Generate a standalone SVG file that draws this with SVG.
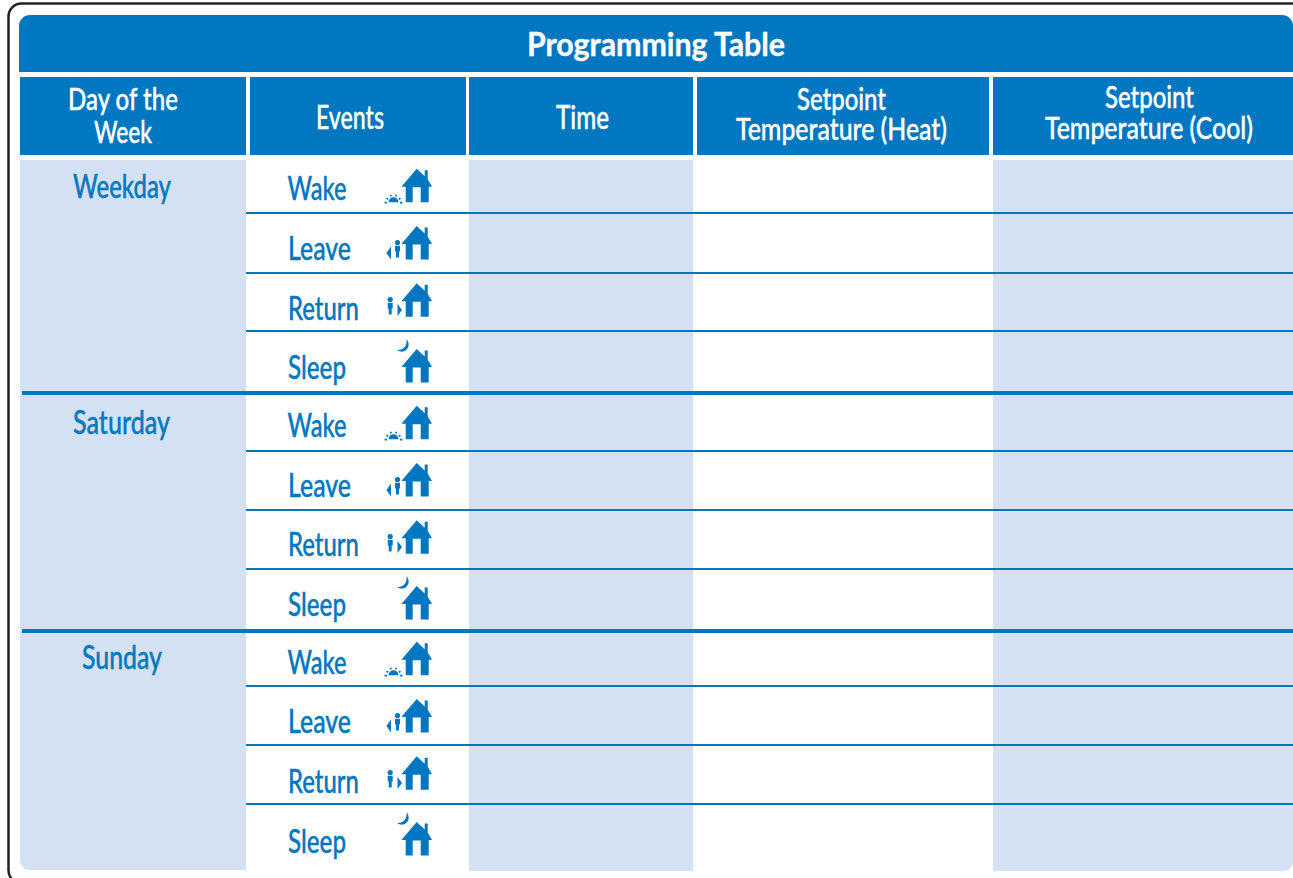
<svg xmlns="http://www.w3.org/2000/svg" width="1293" height="878" viewBox="0 0 1293 878">
<style>
text{font-family:Lato,"Liberation Sans",sans-serif;font-size:33px;font-weight:500;stroke-width:.4}
.h{fill:#fff;stroke:#fff}.b{fill:#0277c1;stroke:#0277c1}.l{fill:#d4e1f2}.c{fill:#0277c1}.f{fill:#0277c1}
.s{font-size:31px}
.t{stroke:#0277c1;stroke-width:2;fill:none}.k{stroke:#0277c1;stroke-width:4;fill:none}
</style>
<defs>
<g id="house"><path class="c" d="M0 0L8 7.500V1.500H11V10.500L15.300 18H12V33.500H4V18.500H-4V33.500H-11V18H-15.300Z"/></g>
<g id="sun"><path class="c" d="M-5 .5A5 5 0 0 1 5 .5Z"/><path d="M-9 1H-6.500M6.500 1H9M-7 -3.500L-5.300 -2.500M7 -3.500L5.300 -2.500M-2.900 -7L-2.300 -5.300M2.900 -7L2.300 -5.300" stroke="#0277c1" stroke-width="1.700" fill="none"/></g>
<g id="person"><circle class="c" cx="0" cy="0" r="2.600"/><path class="c" d="M-2.500 3.200H2.500V9H1.500V15H-1.500V9H-2.500Z"/></g>
<g id="leave"><use href="#person" x="397.500" y="242.500"/><path class="c" d="M391 246.500V259.500L386.400 253Z"/></g>
<g id="ret"><use href="#person" x="390.200" y="299.500"/><path class="c" d="M397.500 304V316L402 310Z"/></g>
<path id="moon" class="c" d="M406.500 339C412.500 346 405 355.500 397 350C403 350.500 407.500 346 406.500 339Z"/>
<g id="icons">
<use href="#house" x="416.700" y="168.700"/><use href="#sun" x="393.500" y="201.700"/>
<use href="#house" x="416.700" y="226"/><use href="#leave"/>
<use href="#house" x="416.700" y="283.300"/><use href="#ret"/>
<use href="#house" x="416.700" y="349"/><use href="#moon"/>
</g>
</defs>
<rect id="frame" x="8.500" y="3.500" width="1320" height="880" rx="13" fill="#fff" stroke="#222" stroke-width="2.500"/>

<g id="title"><path class="f" d="M19 72V26A11 11 0 0 1 30 15H1282A11 11 0 0 1 1293 26V72Z"/>
<text class="h" x="527" y="56" textLength="258" lengthAdjust="spacingAndGlyphs" style="font-weight:700;font-size:32px">Programming Table</text></g>

<g id="header-day"><rect class="f" x="20" y="77" width="226" height="78"/>
<text class="h s" x="68" y="110" textLength="110" lengthAdjust="spacingAndGlyphs">Day of the</text>
<text class="h s" x="94" y="143" textLength="58" lengthAdjust="spacingAndGlyphs">Week</text></g>
<g id="header-events"><rect class="f" x="250" y="77" width="216" height="78"/>
<text class="h" x="316" y="129" textLength="68" lengthAdjust="spacingAndGlyphs">Events</text></g>
<g id="header-time"><rect class="f" x="469" y="77" width="224" height="78"/>
<text class="h" x="556" y="129" textLength="53" lengthAdjust="spacingAndGlyphs">Time</text></g>
<g id="header-heat"><rect class="f" x="697" y="77" width="292" height="78"/>
<text class="h s" x="797" y="110" textLength="89" lengthAdjust="spacingAndGlyphs">Setpoint</text>
<text class="h s" x="736" y="140" textLength="211" lengthAdjust="spacingAndGlyphs">Temperature (Heat)</text></g>
<g id="header-cool"><rect class="f" x="993" y="77" width="300" height="78"/>
<text class="h s" x="1105" y="108" textLength="89" lengthAdjust="spacingAndGlyphs">Setpoint</text>
<text class="h s" x="1045" y="139" textLength="208" lengthAdjust="spacingAndGlyphs">Temperature (Cool)</text></g>

<g id="col-day"><path class="l" d="M20 160H246V870H30A10 10 0 0 1 20 860Z"/></g>
<g id="col-time"><rect class="l" x="469" y="160" width="224" height="711"/></g>
<g id="col-cool"><path class="l" d="M993 160H1293V860A10 10 0 0 1 1283 871H993Z"/></g>

<g id="connectors">
<path class="t" d="M246 213H1293M246 273H1293M246 331H1293M246 451H1293M246 510H1293M246 569H1293M246 686H1293M246 745H1293M246 804H1293"/>
<path class="k" d="M22 393H1293M22 631H1293"/>
</g>

<g id="weekday"><text class="b" x="73" y="198" textLength="98" lengthAdjust="spacingAndGlyphs">Weekday</text>
<g id="weekday-wake"><text class="b" x="287.500" y="200" textLength="59" lengthAdjust="spacingAndGlyphs">Wake</text></g>
<g id="weekday-leave"><text class="b" x="288" y="260" textLength="63" lengthAdjust="spacingAndGlyphs">Leave</text></g>
<g id="weekday-return"><text class="b" x="288" y="320" textLength="71" lengthAdjust="spacingAndGlyphs">Return</text></g>
<g id="weekday-sleep"><text class="b" x="288" y="379" textLength="58" lengthAdjust="spacingAndGlyphs">Sleep</text></g>
<use href="#icons"/></g>

<g id="saturday"><text class="b" x="73" y="434" textLength="97" lengthAdjust="spacingAndGlyphs">Saturday</text>
<g id="saturday-wake"><text class="b" x="287.500" y="437" textLength="59" lengthAdjust="spacingAndGlyphs">Wake</text></g>
<g id="saturday-leave"><text class="b" x="288" y="497" textLength="63" lengthAdjust="spacingAndGlyphs">Leave</text></g>
<g id="saturday-return"><text class="b" x="288" y="556" textLength="71" lengthAdjust="spacingAndGlyphs">Return</text></g>
<g id="saturday-sleep"><text class="b" x="288" y="616" textLength="58" lengthAdjust="spacingAndGlyphs">Sleep</text></g>
<use href="#icons" y="237"/></g>

<g id="sunday"><text class="b" x="82" y="669" textLength="80" lengthAdjust="spacingAndGlyphs">Sunday</text>
<g id="sunday-wake"><text class="b" x="287.500" y="674" textLength="59" lengthAdjust="spacingAndGlyphs">Wake</text></g>
<g id="sunday-leave"><text class="b" x="288" y="733" textLength="63" lengthAdjust="spacingAndGlyphs">Leave</text></g>
<g id="sunday-return"><text class="b" x="288" y="793" textLength="71" lengthAdjust="spacingAndGlyphs">Return</text></g>
<g id="sunday-sleep"><text class="b" x="288" y="853" textLength="58" lengthAdjust="spacingAndGlyphs">Sleep</text></g>
<use href="#icons" y="473"/></g>
</svg>
